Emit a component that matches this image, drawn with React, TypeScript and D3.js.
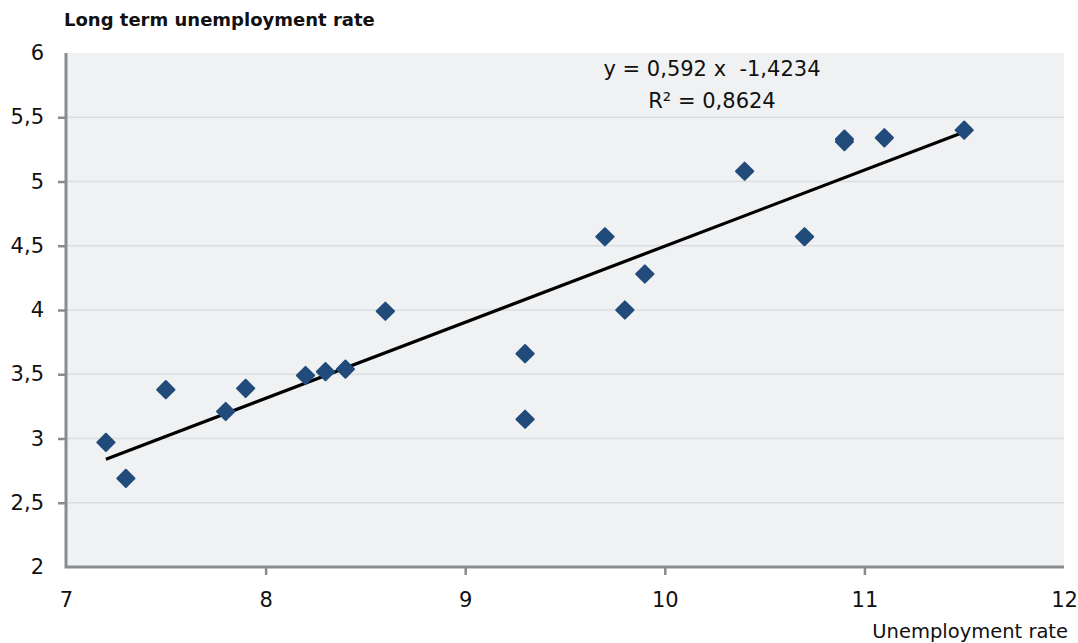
import { useRef, useEffect } from "react";
import * as d3 from "d3";

const unemployment = [7.2, 7.3, 7.5, 7.8, 7.9, 8.2, 8.3, 8.4, 8.6, 9.3, 9.3, 9.7, 9.8, 9.9, 10.4, 10.7, 10.9, 10.9, 11.1, 11.5];
const longTerm = [2.97, 2.69, 3.38, 3.21, 3.39, 3.49, 3.52, 3.54, 3.99, 3.66, 3.15, 4.57, 4.0, 4.28, 5.08, 4.57, 5.31, 5.33, 5.34, 5.4];
const xTicks = [7, 8, 9, 10, 11, 12];
const yTicks = [2, 2.5, 3, 3.5, 4, 4.5, 5, 5.5, 6];
const slope = 0.592;
const intercept = -1.4234;
const equationText = "y = 0,592 x \u00a0-1,4234";
const r2Text = "R² = 0,8624";

const width = 1078;
const height = 643;
const font = "'DejaVu Sans', 'Open Sans', sans-serif";

const App = () => {
  const svgRef = useRef(null);

  useEffect(() => {
    const svg = d3.select(svgRef.current);
    svg.selectAll("*").remove();

    const left = 66, right = 1064, top = 53, bottom = 567;
    const x = d3.scaleLinear().domain([7, 12]).range([left, right]);
    const y = d3.scaleLinear().domain([2, 6]).range([bottom, top]);
    const fmt = (v: number) => String(v).replace(".", ",");

    //  plot background
    svg.append("rect")
      .attr("x", left).attr("y", top)
      .attr("width", right - left).attr("height", bottom - top)
      .attr("fill", "#f0f1f3");

    //  gridlines
    svg.append("g")
      .selectAll("line")
      .data(yTicks.filter((t) => t > 2 && t < 6))
      .join("line")
      .attr("x1", left).attr("x2", right)
      .attr("y1", (d) => y(d)).attr("y2", (d) => y(d))
      .attr("stroke", "#dcdde0")
      .attr("stroke-width", 1.5);

    //  axes
    const axisColor = "#8a8b90";
    const yAxis = svg.append("g")
      .attr("transform", `translate(${left},0)`)
      .call(d3.axisLeft(y).tickValues(yTicks).tickSize(8).tickPadding(14).tickFormat((d: any) => fmt(d)));
    const xAxis = svg.append("g")
      .attr("transform", `translate(0,${bottom})`)
      .call(d3.axisBottom(x).tickValues(xTicks).tickSize(8).tickPadding(17).tickFormat((d: any) => fmt(d)));
    [yAxis, xAxis].forEach((g) => {
      g.select(".domain").remove();
      g.selectAll("line").attr("stroke", axisColor).attr("stroke-width", 2.5);
      g.selectAll("text")
        .attr("font-family", font)
        .attr("font-size", 21)
        .attr("fill", "#111");
    });
    xAxis.selectAll(".tick").filter((d: any) => d === 7 || d === 12).select("line").remove();
    yAxis.selectAll(".tick").filter((d: any) => d === 2 || d === 6).select("line").remove();

    svg.append("path")
      .attr("d", `M${left},${top}V${bottom}H${right}`)
      .attr("fill", "none")
      .attr("stroke", axisColor)
      .attr("stroke-width", 3);

    //  trend line
    const xMin = d3.min(unemployment) as number;
    const xMax = d3.max(unemployment) as number;
    svg.append("line")
      .attr("x1", x(xMin)).attr("y1", y(slope * xMin + intercept))
      .attr("x2", x(xMax)).attr("y2", y(slope * xMax + intercept))
      .attr("stroke", "#000")
      .attr("stroke-width", 3.2);

    //  points
    const diamond = d3.symbol().type(d3.symbolDiamond2).size(190);
    svg.append("g")
      .selectAll("path")
      .data(unemployment)
      .join("path")
      .attr("transform", (d, i) => `translate(${x(d)},${y(longTerm[i])})`)
      .attr("d", diamond as any)
      .attr("fill", "#214b7a")
      .attr("stroke", "#214b7a")
      .attr("stroke-width", 2)
      .attr("stroke-linejoin", "round");

    //  equation
    const eq = svg.append("g")
      .attr("font-family", font)
      .attr("font-size", 21)
      .attr("fill", "#111")
      .attr("text-anchor", "middle");
    eq.append("text").attr("x", 712).attr("y", 76).text(equationText);
    eq.append("text").attr("x", 712).attr("y", 108).text(r2Text);

    //  titles
    svg.append("text")
      .attr("x", 64).attr("y", 26)
      .attr("font-family", font)
      .attr("font-size", 18)
      .attr("font-weight", "bold")
      .attr("fill", "#111")
      .text("Long term unemployment rate");
    svg.append("text")
      .attr("x", 1068).attr("y", 638)
      .attr("text-anchor", "end")
      .attr("font-family", font)
      .attr("font-size", 19.5)
      .attr("fill", "#111")
      .text("Unemployment rate");
  }, []);

  return (
    <svg
      ref={svgRef}
      width={width}
      height={height}
      style={{ position: "absolute", left: 0, top: 0, background: "#fff" }}
    />
  );
};

export default App;
